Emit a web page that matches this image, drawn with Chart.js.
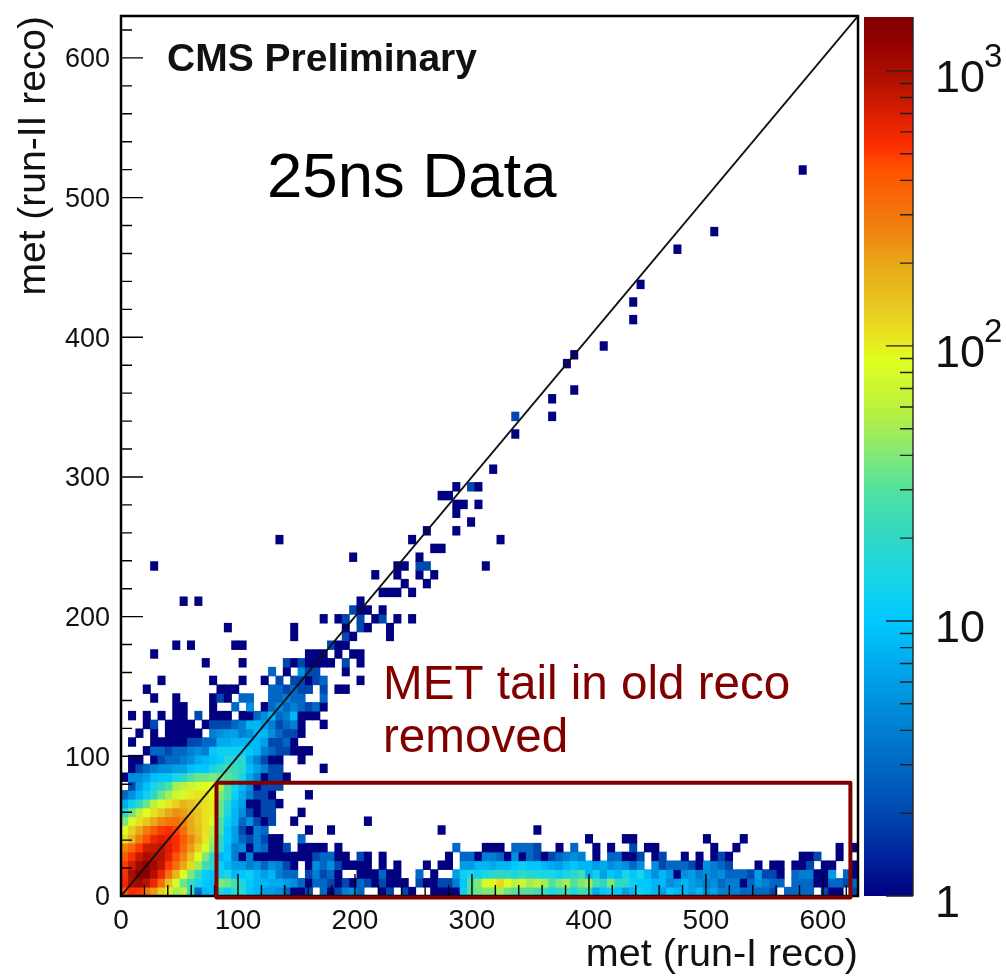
<!DOCTYPE html>
<html><head><meta charset="utf-8">
<script src="https://cdn.jsdelivr.net/npm/chart.js@4"></script>
<style>html,body{margin:0;padding:0;background:#fff;width:1006px;height:976px;overflow:hidden}
canvas{position:absolute;top:0}#main{left:0}#bar{left:860px}</style></head>
<body><canvas id="main" width="1006" height="976"></canvas><canvas id="bar" width="146" height="976"></canvas>
<script>
// Each row is a y bin; each run is [first x bin, counts...]
const binWidth = 6.3;
const row00=[[0,450,550,500,300,220,130,100,50,60,22,3,8,9,15,12,18,18,10,8,6,6,5,3,1,1,2,0,3,1,2,4,5,3],[35,1,2,0,2,1,0,0,1,1,1,1,12,30,35,40,40,50,35,30,30,30,25,22,15,20,25,15,25,20,7,10,12,10],[68,6,8,12,10,8,6,10,8,8,6,8,5,6,4,4,4,3,3,3,3,2,0,3,3,3,3,0,2,1,1,0,2]];
const row01=[[0,600,950,1100,900,600,330,150,80,35,22,14,10,9,40,35,25,15,10,8,8,7,7,6,5,3,1,3,3,2,1,2,1,3,2],[34,1,2,1,1,1,0,2,1,1,2,2,4,10,30,40,80,90,120,90,60,70,50,60,50,30,40,50,30,40,50,25,20,40,20],[68,20,12,10,10,8,8,5,6,8,6,5,4,5,3,4,4,1,3,5,4,3,3,0,3,3,3,1,1,3,3,2,3]];
const row02=[[0,550,1000,1400,1400,950,600,330,170,90,40,22,11,10,12,14,8,10,12,8,6,8,4,3,3,0,2,4,2,3,1,0,0,1,1],[34,1,3,1,1,0,0,3,0,1,0,0,6,12,15,12,15,18,20,18,15,20,18,15,14,15,12,14,18,25,8,12,6,10,8],[68,14,10,14,8,5,8,6,1,5,6,4,5,4,5,3,3,3,2,6,2,2,1,0,3,4,4,1,1,6,0,3,1]];
const row03=[[0,500,750,1100,1300,1100,850,500,330,200,120,50,25,18,12,8,6,6,4,5,3,5,4,2,1,0,1,5,3,5,2,1,1,1,1],[35,1,0,1,0,0,0,1,0,1,1,0,6,6,8,8,7,8,8,10,12,10,10,8,7,6,8,10,8,8,6,7,5,6],[68,5,3,5,0,5,2,3,3,3,2,1,5,4,3,2,0,0,0,1,0,1,1,0,1,1,2,0,1,1,0,0,1]];
const row04=[[0,400,550,800,1000,950,900,650,450,260,150,90,40,18,8,10,4,1,4,1,1,1,1,1,1,1,1,2,3,3,1,1,0,2],[33,1,0,1],[44,1,0,3,3,1,4,4,3,1,5,1,3,2,1,2,3,4,5,4,0,1,0,3,3],[68,1,1,2,0,1,2,0,0,1,0,1,0,1,2,1],[92,1,1,2,0,0,1]];
const row05=[[0,260,350,500,750,800,850,700,550,350,220,130,80,40,18,9,4,5,1,4,3,1,1,2,0,1,1,1,1,0,1],[45,3,0,0,0,1,1,1,0,3,3,3,2],[59,1,0,3],[64,1,0,1],[69,2,0,1,1],[80,1,0,0,1],[97,1,0,1]];
const row06=[[0,110,170,280,450,600,700,650,550,400,260,170,105,50,20,10,6,3,2,4,2,1,1,0,0,3],[63,1],[68,1,1],[79,1],[84,1]];
const row07=[[0,90,130,190,280,400,500,550,480,320,200,150,110,60,28,10,6,2,1,4,3],[25,1],[28,1],[43,1],[56,1]];
const row08=[[0,40,80,110,140,200,260,300,320,260,200,140,110,85,28,12,8,3,5,2,1,2],[23,1],[33,1]];
const row09=[[0,18,35,60,90,110,140,200,240,220,170,140,110,100,35,15,8,5,2,1,2,2],[24,1]];
const row10=[[0,7,12,20,35,60,80,105,130,170,150,130,110,100,35,18,9,6,1,1,2,2,1]];
const row11=[[0,3,5,8,12,20,35,50,70,80,100,110,110,90,40,28,12,7,4,2,2,1],[25,1]];
const row12=[[1,2,6,9,14,20,28,50,60,70,80,90,90,55,28,14,8,5,1,2,2,2]];
const row13=[[0,1,5,5,6,9,10,10,15,18,28,35,35,40,35,32,25,14,7,4,1,2,2,1]];
const row14=[[1,1,2,3,4,5,5,6,6,9,10,10,14,20,25,22,18,9,6,4,2,2],[27,1]];
const row15=[[1,1,1,0,1,2,3,3,4,5,7,8,9,11,16,18,18,7,4,2,1,1],[24,1]];
const row16=[[3,1,3,3,2,3,3,4,5,4,10,12,12,12,12,10,8,4,3,2,2,1,1,1]];
const row17=[[1,1],[4,1,1,1,1,1,2,2,3,3,7,7,8,8,8,8,6,2,2,3,1]];
const row18=[[2,1,0,1,0,1,1,1,1,1,0,4,5,6,6,4,5,8,8,5,3,2,2,1]];
const row19=[[3,1,2,0,1,1,1,1,0,1,2,2,2,3,4,8,8,6,4,2,3,4,1],[27,1]];
const row20=[[1,1,0,1,0,1,0,1,1,0,2,0,1,1,1,0,1,1,3,5,8,3,4,8,1,1,1]];
const row21=[[7,1,1],[12,1,0,0,3,0,5,0,1,3,5,3,4,3,2,3,1]];
const row22=[[4,1,0,0,1],[12,1,2,1,0,3,3,0,0,3,3,4,3,3,0,0,3]];
const row23=[[3,1],[13,1,1,1],[20,3,3,2,3,2,2,0,2,0,1,1]];
const row24=[[5,1],[12,1],[16,1,0,0,1,0,2,0,2,2,1,2,3],[32,1]];
const row25=[[20,3,0,1,0,5,2,2],[30,1]];
const row26=[[11,1],[16,1],[22,2,1,2,1,1,1,1,0,2,0,1]];
const row27=[[4,1],[25,1,1,1,0,1,0,1,1]];
const rows=[row00,row01,row02,row03,row04,row05,row06,row07,row08,row09,row10,row11,row12,row13,row14,row15,row16,row17,row18,row19,row20,row21,row22,row23,row24,row25,row26,row27];
// Isolated bins above the dense region
const isoBinX=[7,9,15,16,28,29,30,23,30,31,36,14,23,30,32,33,36,27,29,30,32,34,35,37,39,31,32,33,35,8,10,32,35,36,37,39,38,41,34,37,40,42,4,37,38,40,41,49,31,40,42,43,21,39,51,41,45,47,45,45,46,48,43,44,45,47,48,50,53,53,58,58,61,60,61,65,69,69,70,75,80,92];
const isoBinY=[28,28,28,28,28,28,28,29,29,29,29,30,30,30,30,30,30,31,31,31,31,31,31,31,31,32,32,32,32,33,33,33,34,34,34,34,35,35,36,36,36,36,37,37,37,37,37,37,38,38,39,39,40,40,40,41,41,42,43,44,44,44,45,45,46,46,46,48,52,54,54,56,57,60,61,62,65,67,69,73,75,82];
const isoCount=[1,1,1,1,2,1,1,1,2,1,1,1,1,1,2,1,1,1,1,2,2,1,2,1,1,2,1,1,1,1,1,1,1,1,1,1,1,1,1,1,1,1,1,1,1,2,2,1,1,1,1,1,1,1,1,1,1,1,1,1,1,1,1,1,1,2,1,1,1,2,1,1,1,1,1,1,1,1,1,1,1,1];
const xTicksMajor=[0,100,200,300,400,500,600];
const zMax=1570;
const paletteStops=[[0,'#000080'],[.05,'#0028a0'],[.094,'#0048b0'],[.149,'#0068c4'],[.22,'#0090dc'],[.313,'#00c8ff'],[.36,'#18d4e8'],[.407,'#30d8c4'],[.46,'#50e0a0'],[.5,'#80e878'],[.55,'#b8f040'],[.61,'#e0ff20'],[.63,'#e8e820'],[.68,'#e8c020'],[.72,'#e8a818'],[.76,'#f08010'],[.83,'#ff5000'],[.85,'#ff3000'],[.885,'#e02000'],[.93,'#b01000'],[.975,'#900000'],[1,'#800000']];
function hex(c){return [1,3,5].map(k=>parseInt(c.substr(k,2),16));}
function colorFor(v){
  const f=Math.min(1,Math.log(v)/Math.log(zMax));
  for(let k=1;k<paletteStops.length;k++){
    const [b,cb]=paletteStops[k],[a,ca]=paletteStops[k-1];
    if(f<=b){const t=(f-a)/(b-a),A=hex(ca),B=hex(cb);
      return 'rgb('+A.map((p,n)=>Math.round(p+(B[n]-p)*t)).join(',')+')';}
  }
  return '#800000';
}
const cells=[];
function addCell(i,j,c){if(c>0)cells.push({x:(i+.5)*binWidth,y:[j*binWidth,(j+1)*binWidth],v:c});}
rows.forEach((row,j)=>row.forEach(run=>{for(let k=1;k<run.length;k++)addCell(run[0]+k-1,j,run[k]);}));
isoBinX.forEach((i,n)=>addCell(i,isoBinY[n],isoCount[n]));
const font='"Liberation Sans"';
function noPad(s){s.paddingTop=0;s.paddingBottom=0;s.paddingLeft=0;s.paddingRight=0;}
const frame={id:'frame',
 afterDatasetDraw(chart,args){
  if(args.index!==0)return;
  const {ctx,chartArea:a,scales:{x,y}}=chart;
  ctx.save();ctx.strokeStyle='#000';ctx.lineWidth=1.4;ctx.beginPath();
  for(let v=0;v<=620;v+=20){const M=v%100===0,p=x.getPixelForValue(v);ctx.moveTo(p,a.bottom);ctx.lineTo(p,a.bottom-(M?22:11));}
  for(let v=0;v<=620;v+=20){const M=v%100===0,p=y.getPixelForValue(v);ctx.moveTo(a.left,p);ctx.lineTo(a.left+(M?22:11),p);}
  ctx.stroke();
  ctx.lineWidth=2.5;ctx.strokeRect(a.left,a.top,a.right-a.left,a.bottom-a.top);
  ctx.restore();
 },
 afterDraw(chart){
  const ctx=chart.ctx;ctx.save();ctx.textBaseline='alphabetic';ctx.textAlign='left';
  ctx.fillStyle='#111';ctx.font='bold 39px '+font;ctx.fillText('CMS Preliminary',167,71);
  ctx.fillStyle='#000';ctx.font='63.5px '+font;ctx.fillText('25ns Data',267,197);
  ctx.fillStyle='#800000';ctx.font='47.6px '+font;ctx.fillText('MET tail in old reco',383,699);ctx.fillText('removed',383,752);
  ctx.restore();
 }};
new Chart(document.getElementById('main'),{
 type:'bar',
 data:{datasets:[
  {type:'bar',data:cells,order:3,grouped:false,barThickness:7.37,borderWidth:0,
   backgroundColor:c=>colorFor(c.raw?c.raw.v:1)},
  {type:'line',data:[{x:0,y:0},{x:630,y:630}],order:2,borderColor:'#111',borderWidth:1.8,pointRadius:0,fill:false,tension:0},
  {type:'line',data:[{x:81.6,y:81},{x:623.5,y:81},{x:623.5,y:-1},{x:81.6,y:-1},{x:81.6,y:81}],order:1,borderColor:'#800000',borderWidth:4,pointRadius:0,fill:false,tension:0,clip:false,borderJoinStyle:'round'}
 ]},
 options:{responsive:false,animation:false,devicePixelRatio:1,
  layout:{padding:{left:0,top:16,right:148,bottom:0}},
  plugins:{legend:{display:false},tooltip:{enabled:false},title:{display:false}},
  scales:{
   x:{type:'linear',min:0,max:630,offset:false,grid:{display:false,offset:false},border:{display:false},
    afterFit(s){s.height=80;noPad(s);},
    afterBuildTicks(s){s.ticks=xTicksMajor.map(v=>({value:v}));},
    ticks:{color:'#111',font:{family:font,size:28},padding:0,maxRotation:0,autoSkip:false},
    title:{display:true,text:'met (run-I reco)',align:'end',color:'#111',font:{family:font,size:39.5},padding:{top:0,bottom:-3}}},
   y:{type:'linear',min:0,max:630,grid:{display:false},border:{display:false},
    afterFit(s){s.width=121;noPad(s);},
    afterBuildTicks(s){s.ticks=xTicksMajor.map(v=>({value:v}));},
    ticks:{color:'#111',font:{family:font,size:27,lineHeight:'4px'},padding:3,autoSkip:false,callback:v=>['',String(v)]},
    title:{display:true,text:'met (run-II reco)',align:'end',color:'#111',font:{family:font,size:39},padding:{top:11,bottom:0}}}
  }},
 plugins:[frame]});
// Colour bar
const zTicks=[1,2,3,4,5,6,7,8,9,10,20,30,40,50,60,70,80,90,100,200,300,400,500,600,700,800,900,1000];
const zLabels={1:['','1'],10:['','10'],100:['','10'],1000:['','10']};
const zExponents={100:'2',1000:'3'};
const barFrame={id:'barFrame',afterDatasetsDraw(chart){
  const {ctx,chartArea:a,scales:{y}}=chart;
  ctx.save();ctx.strokeStyle='#222';ctx.lineWidth=1.4;ctx.beginPath();
  zTicks.forEach(v=>{const p=y.getPixelForValue(v),M=zLabels[v];ctx.moveTo(a.right,p);ctx.lineTo(a.right-(M?27:13),p);});
  ctx.moveTo(a.right,a.top);ctx.lineTo(a.right,a.bottom);ctx.stroke();
  ctx.fillStyle='#111';ctx.font='33px '+font;ctx.textAlign='left';ctx.textBaseline='middle';
  Object.keys(zExponents).forEach(v=>ctx.fillText(zExponents[v],a.right+71,y.getPixelForValue(+v)-13));
  ctx.restore();}};
new Chart(document.getElementById('bar'),{
 type:'bar',
 data:{labels:['z'],datasets:[{data:[[1,zMax]],barPercentage:1,categoryPercentage:1,borderWidth:0,
  backgroundColor(c){const a=c.chart.chartArea;if(!a)return '#000080';
   const g=c.chart.ctx.createLinearGradient(0,a.bottom,0,a.top);
   paletteStops.forEach(s=>g.addColorStop(s[0],s[1]));return g;}}]},
 options:{responsive:false,animation:false,devicePixelRatio:1,
  layout:{padding:{left:4,top:17,right:0,bottom:80}},
  plugins:{legend:{display:false},tooltip:{enabled:false}},
  scales:{
   x:{display:false,grid:{display:false},afterFit:noPad},
   y:{type:'logarithmic',position:'right',min:1,max:zMax,grid:{display:false},border:{display:false},
    afterFit(s){s.width=93;noPad(s);},
    afterBuildTicks(s){s.ticks=zTicks.map(v=>({value:v}));},
    ticks:{color:'#111',font:{family:font,size:45,lineHeight:'17px'},padding:14,autoSkip:false,crossAlign:'near',
     callback:v=>zLabels[v]||''}}
  }},
 plugins:[barFrame]});
</script></body></html>
